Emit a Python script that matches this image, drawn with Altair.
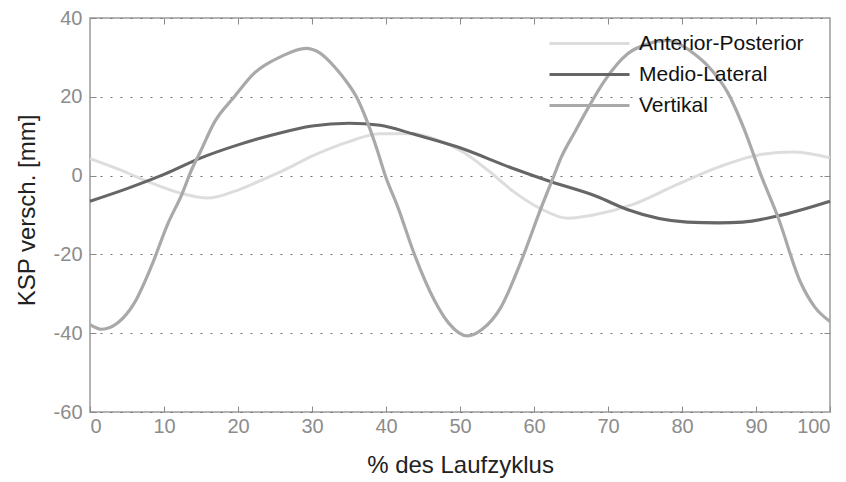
import altair as alt
import pandas as pd

# ---- data ----
SERIES = ["Anterior-Posterior", "Medio-Lateral", "Vertikal"]

AP_X = [0, 4, 7.8, 12.3, 15.9, 19.5, 22.5, 25.8, 30.3, 34.8, 39.2, 43.6, 47, 50.4, 54,
        57.2, 60.8, 64.5, 68, 73.4, 79.3, 85.1, 90.5, 95, 100]
AP_Y = [4.3, 1.5, -1.5, -4.5, -5.7, -4, -1.7, 1, 5.2, 8.5, 10.6, 10.6, 9, 6, 1,
        -4, -8.3, -10.8, -10, -7.3, -2.3, 2.3, 5.3, 6, 4.5]

ML_X = [0, 5, 10, 15, 20, 25, 30, 35, 39.2, 43.6, 49.6, 57.2, 62.2, 68.5, 72.6,
        80.7, 85, 88.2, 92.8, 100]
ML_Y = [-6.5, -3.3, 0.3, 4.5, 7.8, 10.5, 12.6, 13.3, 12.8, 10.6, 7.3, 1.8, -1.5, -5.3, -8.6,
        -11.8, -12, -11.8, -10.3, -6.5]

V_X = [0, 1.6, 3.8, 6, 8.3, 10.5, 12.4, 13.8, 14.9, 16.8, 19.5, 22.2, 25.8, 29.2, 31, 33,
       34.8, 36, 37.5, 38.9, 39.9, 41.6, 43.8, 46.5, 48.5, 51, 53, 55.5, 58.2, 61, 62.7,
       63.6, 65.5, 67.2, 69.5, 72.7, 75.5, 78, 80, 81.6, 84, 86.2, 88.4, 90.7, 93, 96, 98, 100]
V_Y = [-37.8, -39, -37.3, -32.3, -23, -12.3, -4.8, 1.8, 6, 13.5, 20, 26, 30.2, 32.3, 31.2, 27.7,
       23.5, 20, 13.5, 6, 0, -8, -19.8, -31.5, -37.5, -40.7, -39, -33.5, -22, -8, 0,
       4.3, 11, 16.8, 24, 31, 33.5, 34.3, 33, 31, 26.8, 21, 11.8, 0, -10.7, -27, -33.5, -37]

X_TICKS = list(range(0, 101, 10))
Y_TICKS = [-60, -40, -20, 0, 20, 40]

COLORS = ["#dddddd", "#666666", "#a9a9a9"]
WIDTHS = [3, 3.2, 2.5]

rows = []
for name, xs, ys in zip(SERIES, [AP_X, ML_X, V_X], [AP_Y, ML_Y, V_Y]):
    for i, (x, y) in enumerate(zip(xs, ys)):
        rows.append({"series": name, "x": x, "y": y, "order": i})
df = pd.DataFrame(rows)

FONT = "Liberation Sans"
xscale = alt.Scale(domain=[0, 100], nice=False, zero=False)
yscale = alt.Scale(domain=[-60, 40], nice=False, zero=False)
PLAIN = "'' + datum.value"

# invisible layer that only carries the top and right (inward) tick axes
frame = alt.Chart(df).mark_line(opacity=0).encode(
    x=alt.X("x:Q", scale=xscale,
            axis=alt.Axis(orient="top", offset=-6, tickSize=6, labels=False, domain=False,
                          grid=False, title=None, values=X_TICKS[1:-1], tickColor="#8a8a8a")),
    y=alt.Y("y:Q", scale=yscale,
            axis=alt.Axis(orient="right", offset=-6, tickSize=6, labels=False, domain=False,
                          grid=False, title=None, values=[-40, -20, 0, 20], tickColor="#8a8a8a")),
    detail="series:N",
)

lines = alt.Chart(df).mark_line(interpolate="monotone").encode(
    x=alt.X("x:Q", scale=xscale,
            axis=alt.Axis(orient="bottom", offset=-6, tickSize=6, domain=False, grid=False,
                          values=X_TICKS, tickColor="#8a8a8a", labelFontSize=20,
                          labelColor="#8c8c8c", labelPadding=4, labelFont=FONT,
                          labelExpr=PLAIN,
                          title="% des Laufzyklus", titleFont=FONT, titleFontSize=24,
                          titleFontWeight="normal", titleColor="#222222",
                          titleBaseline="alphabetic", titleY=66)),
    y=alt.Y("y:Q", scale=yscale,
            axis=alt.Axis(orient="left", offset=-6, tickSize=6, domain=False, grid=True,
                          gridDash=[2, 8], gridColor="#707070", gridWidth=1,
                          values=Y_TICKS, tickColor="#8a8a8a", labelFontSize=20,
                          labelColor="#8c8c8c", labelPadding=8, labelFont=FONT,
                          labelExpr=PLAIN,
                          title="KSP versch. [mm]", titleFont=FONT, titleFontSize=24,
                          titleFontWeight="normal", titleColor="#222222",
                          titleBaseline="alphabetic", titleX=-62, titleY=192)),
    color=alt.Color("series:N", scale=alt.Scale(domain=SERIES, range=COLORS),
                    legend=alt.Legend(orient="none", legendX=489, legendY=15, title=None,
                                      symbolType="M-10,0H10", symbolSize=64,
                                      symbolStrokeWidth=3, labelFontSize=21, labelFont=FONT,
                                      labelColor="#111111", labelOffset=39, rowPadding=9,
                                      labelLimit=0, padding=0)),
    strokeWidth=alt.StrokeWidth("series:N", scale=alt.Scale(domain=SERIES, range=WIDTHS),
                                legend=None),
    order="order:Q",
)

chart = alt.layer(frame, lines).resolve_axis(x="independent", y="independent").properties(
    width=740, height=394,
    autosize=alt.AutoSizeParams(type="none"),
    padding={"left": 82, "top": 10, "right": 8, "bottom": 66},
    background="white",
).configure_view(stroke="#9a9a9a", strokeWidth=1.5)

chart.save("out.html", embed_options={"renderer": "svg", "actions": False})
